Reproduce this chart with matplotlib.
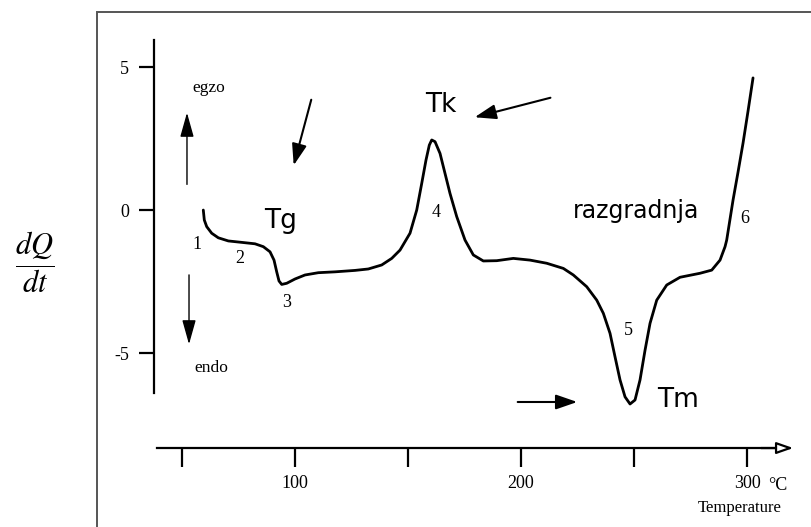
import numpy as np
import matplotlib
matplotlib.use("Agg")
import matplotlib.pyplot as plt
from matplotlib.patches import Rectangle

# DSC curve: temperature (deg C) and heat flow dQ/dt
temperature = [59.42, 59.87, 60.93, 63.14, 66.06, 70.49, 76.42, 82.30, 85.97, 88.94,
               90.71, 91.90, 92.92, 94.12, 96.33, 100.0, 104.42, 110.31, 117.70, 126.55,
               132.43, 138.36, 142.79, 146.46, 150.88, 153.85, 156.06, 157.96, 159.42,
               160.49, 161.95, 164.16, 166.37, 168.58, 171.55, 175.22, 178.89, 183.32,
               189.25, 196.59, 203.98, 211.37, 218.72, 223.14, 229.07, 233.50, 236.42,
               239.38, 241.59, 243.81, 246.02, 248.23, 250.44, 252.65, 254.87, 257.08,
               260.04, 264.47, 270.35, 279.20, 284.38, 288.05, 290.27, 291.0, 293.81,
               296.02, 298.23, 300.44, 302.65]
dqdt = [0.00, -0.35, -0.58, -0.81, -0.97, -1.08, -1.13, -1.18, -1.28, -1.46,
        -1.75, -2.16, -2.48, -2.60, -2.56, -2.41, -2.27, -2.19, -2.16, -2.11,
        -2.06, -1.92, -1.69, -1.40, -0.81, 0.00, 0.93, 1.75, 2.27,
        2.45, 2.39, 1.98, 1.28, 0.58, -0.23, -1.05, -1.57, -1.78,
        -1.77, -1.69, -1.75, -1.86, -2.04, -2.27, -2.68, -3.15, -3.61,
        -4.31, -5.13, -5.94, -6.53, -6.78, -6.64, -5.94, -4.90, -3.96,
        -3.15, -2.62, -2.35, -2.21, -2.10, -1.75, -1.28, -1.05, 0.35,
        1.33, 2.34, 3.46, 4.62]

x_ticks = [50, 100, 150, 200, 250, 300]
x_labels = ["", "100", "", "200", "", "300"]
y_ticks = [-5, 0, 5]
y_labels = ["-5", "0", "5"]

serif = "Liberation Serif"
hand = "DejaVu Sans"

plt.rcParams["mathtext.fontset"] = "stix"

fig = plt.figure(figsize=(8.11, 5.27), dpi=100)
ax = fig.add_axes([0, 0, 1, 1])
ax.set_xlim(-30.53, 328.3)
ax.set_ylim(-11.08, 7.343)
ax.patch.set_alpha(0)

# frame of the scanned page
fig.patches.append(Rectangle((97 / 811, -0.05), 1.0, 1 - 12 / 527 + 0.05,
                             transform=fig.transFigure, fill=False,
                             edgecolor="#555555", linewidth=1.4))

ax.plot(temperature, dqdt, color="black", linewidth=2.0,
        solid_capstyle="round", solid_joinstyle="round")

# axes
for s in ["top", "right"]:
    ax.spines[s].set_visible(False)
ax.spines["left"].set_position(("data", 37.6))
ax.spines["left"].set_bounds(-6.40, 5.94)
ax.spines["left"].set_linewidth(1.6)
ax.spines["bottom"].set_position(("data", -8.32))
ax.spines["bottom"].set_bounds(38.9, 312)
ax.spines["bottom"].set_linewidth(1.6)

ax.set_xticks(x_ticks)
ax.set_xticklabels(x_labels, fontfamily=serif, fontsize=13)
ax.set_yticks(y_ticks)
ax.set_yticklabels(y_labels, fontfamily=serif, fontsize=13)
ax.tick_params(axis="x", direction="out", length=13.5, width=1.6, pad=6)
ax.tick_params(axis="y", direction="out", length=11, width=1.6, pad=7)

# open arrow head on temperature axis
ax.annotate("", xy=(321.7, -8.32), xytext=(305, -8.32),
            arrowprops=dict(arrowstyle="-|>,head_length=1.0,head_width=0.35",
                            facecolor="white", edgecolor="black", linewidth=1.6))

ax.text(309.5, -9.62, "°C", fontfamily=serif, fontsize=13, ha="left", va="center")
ax.text(296.9, -10.42, "Temperature", fontfamily=serif, fontsize=12, ha="center", va="center")

ax.text(-15.0, -1.82, r"$\dfrac{dQ}{dt}$", fontsize=22, ha="center", va="center")

# egzo / endo
ax.text(61.9, 4.27, "egzo", fontfamily=serif, fontsize=12.5, ha="center", va="center")
ax.text(62.8, -5.52, "endo", fontfamily=serif, fontsize=12.5, ha="center", va="center")
arrow_kw = dict(arrowstyle="-|>,head_length=1.5,head_width=0.42", color="black", linewidth=1.0)
ax.annotate("", xy=(52.2, 3.50), xytext=(52.2, 0.80), arrowprops=arrow_kw)
ax.annotate("", xy=(53.1, -4.79), xytext=(53.1, -2.17), arrowprops=arrow_kw)

# point numbers
for lab, tx, ty in [("1", 56.6, -1.22), ("2", 75.7, -1.71), ("3", 96.5, -3.22),
                    ("4", 162.4, -0.07), ("5", 247.3, -4.20), ("6", 299.1, -0.28)]:
    ax.text(tx, ty, lab, fontfamily=serif, fontsize=13, ha="center", va="center")

# hand-written style labels and arrows
ax.text(93.4, -0.38, "Tg", fontfamily=hand, fontsize=19, ha="center", va="center")
ax.text(164.6, 3.67, "Tk", fontfamily=hand, fontsize=19, ha="center", va="center")
ax.text(250.9, -0.28, "razgradnja", fontfamily=hand, fontsize=17, ha="center", va="baseline")
ax.text(269.5, -6.64, "Tm", fontfamily=hand, fontsize=19, ha="center", va="center")

big_kw = dict(arrowstyle="-|>,head_length=1.3,head_width=0.45", color="black", linewidth=1.5)
ax.annotate("", xy=(99.1, 1.47), xytext=(107.5, 3.95), arrowprops=big_kw)
ax.annotate("", xy=(178.3, 3.22), xytext=(214.2, 3.95), arrowprops=big_kw)
ax.annotate("", xy=(226.1, -6.71), xytext=(197.3, -6.71), arrowprops=big_kw)

fig.savefig("out.png", dpi=100, facecolor="white")
